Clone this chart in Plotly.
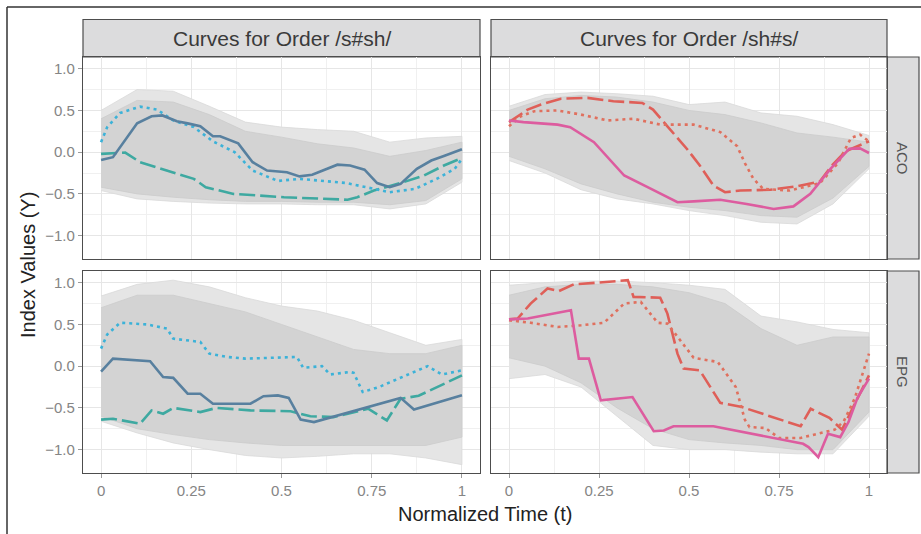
import plotly.graph_objects as go

# ---------------- data ----------------
env_t = [0, 0.1, 0.2, 0.3, 0.4, 0.5, 0.6, 0.7, 0.8, 0.9, 1.0]

# grey curve mass: outer (faint) and dense envelopes per panel
aco_ssh_outer_hi = [0.50, 0.75, 0.73, 0.55, 0.36, 0.30, 0.27, 0.25, 0.12, 0.17, 0.19]
aco_ssh_dense_hi = [0.40, 0.62, 0.60, 0.45, 0.25, 0.18, 0.10, 0.05, -0.05, 0.02, 0.12]
aco_ssh_dense_lo = [-0.42, -0.50, -0.54, -0.57, -0.59, -0.59, -0.60, -0.60, -0.63, -0.58, -0.32]
aco_ssh_outer_lo = [-0.46, -0.56, -0.59, -0.61, -0.62, -0.62, -0.63, -0.63, -0.68, -0.62, -0.36]

aco_shs_outer_hi = [0.55, 0.69, 0.72, 0.70, 0.67, 0.57, 0.60, 0.47, 0.43, 0.33, 0.20]
aco_shs_dense_hi = [0.50, 0.64, 0.68, 0.66, 0.60, 0.50, 0.45, 0.35, 0.23, 0.18, 0.12]
aco_shs_dense_lo = [-0.05, -0.20, -0.38, -0.50, -0.60, -0.66, -0.70, -0.76, -0.78, -0.55, -0.17]
aco_shs_outer_lo = [-0.10, -0.25, -0.45, -0.56, -0.62, -0.70, -0.76, -0.84, -0.86, -0.62, -0.20]

epg_ssh_outer_hi = [0.84, 0.98, 1.03, 0.95, 0.82, 0.72, 0.66, 0.55, 0.40, 0.25, 0.32]
epg_ssh_dense_hi = [0.70, 0.85, 0.85, 0.75, 0.65, 0.50, 0.35, 0.20, 0.15, 0.15, 0.25]
epg_ssh_dense_lo = [-0.60, -0.75, -0.82, -0.88, -0.92, -0.95, -0.95, -0.95, -0.95, -0.95, -0.85]
epg_ssh_outer_lo = [-0.66, -0.80, -0.92, -1.00, -1.07, -1.10, -1.08, -1.05, -1.05, -1.10, -1.18]

epg_shs_outer_hi = [0.97, 1.00, 1.02, 1.02, 1.00, 0.97, 0.92, 0.60, 0.53, 0.44, 0.40]
epg_shs_dense_hi = [0.85, 0.95, 0.98, 0.98, 0.95, 0.88, 0.75, 0.45, 0.25, 0.35, 0.35]
epg_shs_dense_lo = [0.10, 0.00, -0.20, -0.50, -0.75, -0.88, -0.92, -0.95, -1.00, -1.00, -0.55]
epg_shs_outer_lo = [-0.15, -0.10, -0.25, -0.60, -0.95, -1.00, -1.00, -1.03, -1.05, -1.05, -0.60]

# highlighted curves, order /s#sh/, ACO
aco_ssh_solid_t = [0, 0.033, 0.10, 0.14, 0.17, 0.21, 0.24, 0.275, 0.31, 0.33, 0.38, 0.42, 0.46, 0.49,
                   0.515, 0.55, 0.585, 0.655, 0.69, 0.73, 0.765, 0.80, 0.83, 0.875, 0.915, 0.95, 1.0]
aco_ssh_solid_y = [-0.095, -0.06, 0.345, 0.43, 0.44, 0.37, 0.345, 0.31, 0.19, 0.19, 0.105, -0.12, -0.22, -0.235,
                   -0.24, -0.29, -0.27, -0.15, -0.16, -0.21, -0.37, -0.42, -0.38, -0.20, -0.10, -0.045, 0.035]
aco_ssh_dot_t = [0, 0.017, 0.053, 0.108, 0.155, 0.20, 0.257, 0.31, 0.37, 0.42, 0.49, 0.55, 0.68, 0.756,
                 0.80, 0.87, 0.93, 0.98, 1.0]
aco_ssh_dot_y = [0.12, 0.30, 0.47, 0.545, 0.51, 0.38, 0.30, 0.13, 0.0, -0.22, -0.345, -0.32, -0.37, -0.44,
                 -0.48, -0.44, -0.32, -0.20, -0.08]
aco_ssh_dash_t = [0, 0.067, 0.108, 0.18, 0.257, 0.29, 0.367, 0.507, 0.683, 0.71, 0.756, 0.83, 0.895, 0.95, 1.0]
aco_ssh_dash_y = [-0.02, -0.005, -0.12, -0.22, -0.32, -0.42, -0.50, -0.54, -0.57, -0.54, -0.46, -0.37, -0.28,
                  -0.16, -0.07]

# highlighted curves, order /sh#s/, ACO
aco_shs_solid_t = [0, 0.04, 0.135, 0.17, 0.236, 0.32, 0.385, 0.468, 0.513, 0.587, 0.66, 0.735, 0.79, 0.837,
                   0.893, 0.945, 0.975, 1.0]
aco_shs_solid_y = [0.38, 0.36, 0.33, 0.30, 0.12, -0.28, -0.42, -0.60, -0.59, -0.57, -0.62, -0.68, -0.65, -0.50,
                   -0.20, 0.04, 0.045, -0.01]
aco_shs_dash_t = [0, 0.052, 0.089, 0.144, 0.218, 0.29, 0.37, 0.40, 0.44, 0.495, 0.53, 0.568, 0.60, 0.643,
                  0.726, 0.80, 0.864, 0.895, 0.935, 0.975, 1.0]
aco_shs_dash_y = [0.36, 0.51, 0.57, 0.64, 0.65, 0.61, 0.59, 0.51, 0.31, 0.035, -0.16, -0.40, -0.48, -0.46,
                  -0.45, -0.41, -0.35, -0.17, 0.01, 0.08, 0.13]
aco_shs_dot_t = [0, 0.033, 0.07, 0.135, 0.20, 0.274, 0.346, 0.42, 0.513, 0.587, 0.634, 0.655, 0.679, 0.706,
                 0.78, 0.864, 0.914, 0.95, 0.975, 1.0]
aco_shs_dot_y = [0.31, 0.43, 0.49, 0.50, 0.45, 0.38, 0.40, 0.33, 0.33, 0.24, 0.07, -0.13, -0.32, -0.44,
                 -0.46, -0.37, -0.13, 0.17, 0.21, 0.13]

# highlighted curves, order /s#sh/, EPG
epg_ssh_solid_t = [0, 0.033, 0.136, 0.172, 0.20, 0.24, 0.275, 0.31, 0.414, 0.45, 0.49, 0.52, 0.553, 0.59,
                   0.83, 0.867, 1.0]
epg_ssh_solid_y = [-0.065, 0.09, 0.06, -0.13, -0.14, -0.33, -0.33, -0.45, -0.45, -0.36, -0.35, -0.38, -0.64,
                   -0.67, -0.38, -0.52, -0.35]
epg_ssh_dot_t = [0, 0.017, 0.053, 0.127, 0.183, 0.20, 0.275, 0.30, 0.35, 0.40, 0.543, 0.56, 0.612, 0.635,
                 0.69, 0.70, 0.725, 0.77, 0.905, 0.945, 1.0]
epg_ssh_dot_y = [0.21, 0.38, 0.52, 0.50, 0.45, 0.33, 0.29, 0.15, 0.11, 0.09, 0.11, -0.02, 0.0, -0.10,
                 -0.07, -0.08, -0.31, -0.25, 0.0, -0.10, -0.05]
epg_ssh_dash_t = [0, 0.033, 0.108, 0.14, 0.172, 0.20, 0.275, 0.32, 0.414, 0.525, 0.58, 0.644, 0.74, 0.792,
                  0.83, 0.88, 1.0]
epg_ssh_dash_y = [-0.64, -0.63, -0.69, -0.53, -0.57, -0.50, -0.55, -0.50, -0.53, -0.54, -0.60, -0.61, -0.51,
                  -0.65, -0.39, -0.355, -0.11]

# highlighted curves, order /sh#s/, EPG
epg_shs_solid_t = [0, 0.052, 0.172, 0.194, 0.222, 0.255, 0.343, 0.402, 0.43, 0.457, 0.568, 0.65, 0.817,
                   0.832, 0.859, 0.886, 0.92, 0.943, 0.968, 1.0]
epg_shs_solid_y = [0.56, 0.57, 0.67, 0.09, 0.09, -0.41, -0.37, -0.78, -0.77, -0.72, -0.72, -0.79, -0.93,
                   -0.97, -1.09, -0.81, -0.85, -0.67, -0.38, -0.15]
epg_shs_dash_t = [0, 0.024, 0.06, 0.107, 0.139, 0.18, 0.246, 0.33, 0.346, 0.42, 0.44, 0.468, 0.485, 0.53,
                  0.587, 0.647, 0.81, 0.838, 0.89, 0.925, 1.0]
epg_shs_dash_y = [0.56, 0.57, 0.75, 0.93, 0.90, 0.98, 1.00, 1.03, 0.83, 0.82, 0.63, 0.15, -0.03, -0.05,
                  -0.44, -0.49, -0.72, -0.51, -0.62, -0.76, -0.11]
epg_shs_dot_t = [0, 0.06, 0.135, 0.20, 0.264, 0.32, 0.366, 0.413, 0.44, 0.513, 0.58, 0.63, 0.655, 0.668,
                 0.712, 0.75, 0.81, 0.85, 0.905, 0.93, 0.96, 1.0]
epg_shs_dot_y = [0.55, 0.52, 0.47, 0.49, 0.52, 0.75, 0.77, 0.52, 0.51, 0.10, 0.05, -0.25, -0.64, -0.73,
                 -0.74, -0.86, -0.86, -0.82, -0.76, -0.66, -0.39, 0.15]

x_tick_vals = [0, 0.25, 0.5, 0.75, 1]
x_tick_text = ["0", "0.25", "0.5", "0.75", "1"]
y_tick_vals = [-1.0, -0.5, 0.0, 0.5, 1.0]
y_tick_text = ["\u22121.0", "\u22120.5", "0.0", "0.5", "1.0"]
col_titles = ["Curves for Order /s#sh/", "Curves for Order /sh#s/"]
row_titles = ["ACO", "EPG"]

# ---------------- styling ----------------
W, H = 921, 534
FONT = "Liberation Sans, Arial, sans-serif"
C_STEEL = "#58809f"
C_SKY = "#3cb2d8"
C_TEAL = "#3ea9a1"
C_PINK = "#dd5c9f"
C_RED = "#df5f58"
C_ORANGE = "#e0705e"
GREY_OUT = "#e5e5e5"
GREY_IN = "#d3d3d3"
LW = 2.6


def px_x(p):
    return p / W


def px_y(p):
    return 1 - p / H


panels_x = [(83, 480), (491, 887)]
panels_y = [(57, 259), (271, 473)]

fig = go.Figure()

panel_data = [
    [  # row ACO
        (aco_ssh_outer_hi, aco_ssh_dense_hi, aco_ssh_dense_lo, aco_ssh_outer_lo,
         [(aco_ssh_dash_t, aco_ssh_dash_y, C_TEAL, "16px,5px"),
          (aco_ssh_dot_t, aco_ssh_dot_y, C_SKY, "3px,4px"),
          (aco_ssh_solid_t, aco_ssh_solid_y, C_STEEL, "solid")]),
        (aco_shs_outer_hi, aco_shs_dense_hi, aco_shs_dense_lo, aco_shs_outer_lo,
         [(aco_shs_dash_t, aco_shs_dash_y, C_RED, "16px,5px"),
          (aco_shs_dot_t, aco_shs_dot_y, C_ORANGE, "3px,4px"),
          (aco_shs_solid_t, aco_shs_solid_y, C_PINK, "solid")]),
    ],
    [  # row EPG
        (epg_ssh_outer_hi, epg_ssh_dense_hi, epg_ssh_dense_lo, epg_ssh_outer_lo,
         [(epg_ssh_dash_t, epg_ssh_dash_y, C_TEAL, "16px,5px"),
          (epg_ssh_dot_t, epg_ssh_dot_y, C_SKY, "3px,4px"),
          (epg_ssh_solid_t, epg_ssh_solid_y, C_STEEL, "solid")]),
        (epg_shs_outer_hi, epg_shs_dense_hi, epg_shs_dense_lo, epg_shs_outer_lo,
         [(epg_shs_dash_t, epg_shs_dash_y, C_RED, "16px,5px"),
          (epg_shs_dot_t, epg_shs_dot_y, C_ORANGE, "3px,4px"),
          (epg_shs_solid_t, epg_shs_solid_y, C_PINK, "solid")]),
    ],
]

layout_axes = {}
idx = 0
for r in range(2):
    for c in range(2):
        idx += 1
        xa = "x" if idx == 1 else f"x{idx}"
        ya = "y" if idx == 1 else f"y{idx}"
        ohi, dhi, dlo, olo, lines = panel_data[r][c]
        # grey mass of individual curves (outer faint band, inner dense band)
        fig.add_trace(go.Scatter(x=env_t + env_t[::-1], y=ohi + olo[::-1], fill="toself",
                                 fillcolor=GREY_OUT, line=dict(width=0.8, color="#d9d9d9"),
                                 mode="lines", hoverinfo="skip", showlegend=False,
                                 xaxis=xa, yaxis=ya))
        fig.add_trace(go.Scatter(x=env_t + env_t[::-1], y=dhi + dlo[::-1], fill="toself",
                                 fillcolor=GREY_IN, line=dict(width=0.8, color="#cbcbcb"),
                                 mode="lines", hoverinfo="skip", showlegend=False,
                                 xaxis=xa, yaxis=ya))
        for (tt, yy, col, dash) in lines:
            fig.add_trace(go.Scatter(x=tt, y=yy, mode="lines",
                                     line=dict(color=col, width=LW, dash=dash),
                                     showlegend=False, xaxis=xa, yaxis=ya))
        x0, x1 = panels_x[c]
        y0, y1 = panels_y[r]
        ax_common = dict(showline=True, mirror=True, linecolor="#4d4d4d", linewidth=1.2,
                         gridcolor="#e6e6e6", gridwidth=1, zeroline=False,
                         ticks="outside", ticklen=4, tickcolor="#9a9a9a", tickwidth=1,
                         tickfont=dict(family=FONT, size=15, color="#858585"))
        layout_axes["xaxis" if idx == 1 else f"xaxis{idx}"] = dict(
            ax_common, domain=[px_x(x0), px_x(x1)], anchor=ya, range=[-0.05, 1.05],
            tickvals=x_tick_vals, ticktext=x_tick_text, showticklabels=(r == 1),
            ticks="outside" if r == 1 else "",
            minor=dict(tickvals=[0.125, 0.375, 0.625, 0.875], showgrid=True,
                       gridcolor="#f0f0f0", gridwidth=0.8))
        layout_axes["yaxis" if idx == 1 else f"yaxis{idx}"] = dict(
            ax_common, domain=[px_y(y1), px_y(y0)], anchor=xa, range=[-1.28, 1.14],
            tickvals=y_tick_vals, ticktext=y_tick_text, showticklabels=(c == 0),
            ticks="outside" if c == 0 else "",
            minor=dict(tickvals=[-0.75, -0.25, 0.25, 0.75], showgrid=True,
                       gridcolor="#f0f0f0", gridwidth=0.8))

shapes = []
annotations = []
STRIP_FILL = "#dcdcdd"
STRIP_LINE = "#4d4d4d"
# top strips
for c in range(2):
    x0, x1 = panels_x[c]
    shapes.append(dict(type="rect", xref="paper", yref="paper",
                       x0=px_x(x0), x1=px_x(x1), y0=px_y(57), y1=px_y(19.5),
                       fillcolor=STRIP_FILL, line=dict(color=STRIP_LINE, width=1.2), layer="below"))
    annotations.append(dict(text=col_titles[c], xref="paper", yref="paper",
                            x=px_x((x0 + x1) / 2), y=px_y(38.5), showarrow=False,
                            xanchor="center", yanchor="middle",
                            font=dict(family=FONT, size=21, color="#3a3a3a")))
# right strips
for r in range(2):
    y0, y1 = panels_y[r]
    shapes.append(dict(type="rect", xref="paper", yref="paper",
                       x0=px_x(887), x1=px_x(919), y0=px_y(y1), y1=px_y(y0),
                       fillcolor=STRIP_FILL, line=dict(color=STRIP_LINE, width=1.2), layer="below"))
    annotations.append(dict(text=row_titles[r], xref="paper", yref="paper",
                            x=px_x(903), y=px_y((y0 + y1) / 2), showarrow=False, textangle=90,
                            xanchor="center", yanchor="middle",
                            font=dict(family=FONT, size=15, color="#555555")))
# outer image frame (top and left)
shapes.append(dict(type="line", xref="paper", yref="paper", x0=px_x(7), x1=1.0,
                   y0=px_y(7), y1=px_y(7), line=dict(color="#333333", width=1.5)))
shapes.append(dict(type="line", xref="paper", yref="paper", x0=px_x(7), x1=px_x(7),
                   y0=0.0, y1=px_y(7), line=dict(color="#333333", width=1.5)))

# axis titles
annotations.append(dict(text="Normalized Time (t)", xref="paper", yref="paper",
                        x=px_x(485), y=px_y(514), showarrow=False, xanchor="center", yanchor="middle",
                        font=dict(family=FONT, size=20, color="#222222")))
annotations.append(dict(text="Index Values (Y)", xref="paper", yref="paper",
                        x=px_x(28), y=px_y(265), showarrow=False, xanchor="center", yanchor="middle",
                        textangle=-90, font=dict(family=FONT, size=20, color="#222222")))

fig.update_layout(width=W, height=H, margin=dict(l=0, r=0, t=0, b=0),
                  paper_bgcolor="white", plot_bgcolor="white",
                  shapes=shapes, annotations=annotations, **layout_axes)

fig.write_html("out.html")
